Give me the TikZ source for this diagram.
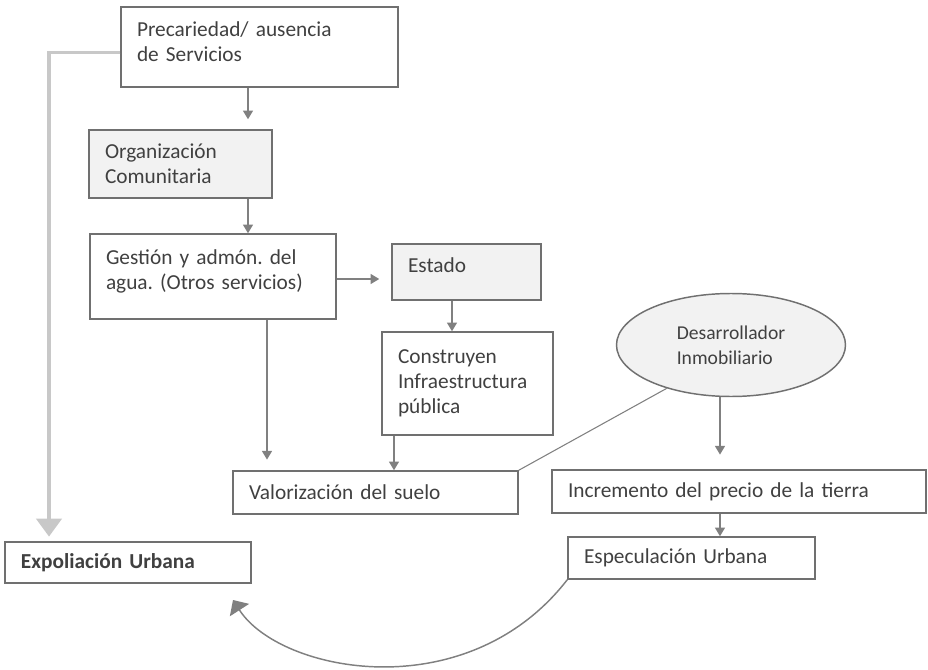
\documentclass[tikz,border=0pt]{standalone}
\usepackage{fontspec}
\setmainfont{Carlito}
\usepackage{tikz}
\usetikzlibrary{arrows.meta,shapes.geometric}
\definecolor{borde}{RGB}{112,112,112}
\definecolor{linea}{RGB}{128,128,128}
\definecolor{relleno}{RGB}{242,242,242}
\definecolor{claro}{RGB}{200,200,200}
\definecolor{texto}{RGB}{64,64,64}
\tikzstyle{caja} = [rectangle, draw=borde, line width=1.1pt, align=left, inner xsep=12pt, inner ysep=0pt, text=texto, font=\fontsize{16}{18.75}\selectfont\frenchspacing]
\tikzstyle{cajagris} = [caja, fill=relleno]
\tikzstyle{flecha} = [draw=linea, line width=0.9pt, -{Triangle[length=6.5pt,width=7.5pt]}]

\begin{document}
\begin{tikzpicture}[x=0.75pt,y=-0.75pt]
  \useasboundingbox (0,0) rectangle (928,670);
  \node[caja, text width=183.75pt, minimum height=60pt, text depth=26.5pt] (prec) at (259.5,47) {Precariedad/ ausencia\\de Servicios};
  \node[cajagris, text width=113.25pt, minimum height=51pt] (org) at (180.5,164) {Organización\\Comunitaria};
  \node[caja, text width=160.5pt, minimum height=63.75pt, text depth=29.5pt] (gest) at (213,276.5) {Gestión y admón. del\\agua. (Otros servicios)};
  \node[cajagris, text width=87.75pt, minimum height=42pt, text depth=10pt] (estado) at (466.5,272) {Estado};
  \node[caja, text width=104.25pt, minimum height=77.25pt] (constr) at (467.5,383.5) {Construyen\\Infraestructura\\pública};
  \node[ellipse, draw=borde, line width=1.1pt, fill=relleno, minimum width=171.75pt, minimum height=77.25pt, inner sep=0pt, align=left, text=texto, font=\fontsize{14.7}{18.75}\selectfont] (desa) at (731,345) {Desarrollador\\Inmobiliario};
  \node[caja, text width=189.75pt, minimum height=32.25pt] (valor) at (375.5,492.5) {Valorización del suelo};
  \node[caja, text width=256.5pt, minimum height=32.25pt] (incr) at (739,491.5) {Incremento del precio de la tierra};
  \node[caja, text width=161.25pt, minimum height=31.5pt] (espec) at (691.5,558) {Especulación Urbana};
  \node[caja, text width=160.5pt, minimum height=30.75pt, font=\fontsize{16}{18.75}\selectfont\bfseries] (expol) at (128,562.5) {Expoliación Urbana};
  \coordinate (fin) at (233,600);
  % flechas
  \draw[flecha, shorten >=7.5pt] (prec.south -| 248,0) -- (org.north -| 248,0);
  \draw[flecha] (org.south -| 248,0) -- (gest.north -| 248,0);
  \draw[flecha, shorten >=9pt] (gest.east |- 0,279) -- (estado.west |- 0,279);
  \draw[flecha] (estado.south -| 452,0) -- (constr.north -| 452,0);
  \draw[flecha, shorten >=8pt] (gest.south -| 267,0) -- (valor.north -| 267,0);
  \draw[flecha] (constr.south -| 394,0) -- (valor.north -| 394,0);
  \draw[flecha, shorten >=11pt] (desa.south -| 720,0) -- (incr.north -| 720,0);
  \draw[flecha] (incr.south -| 720,0) -- (espec.north -| 720,0);
  \draw[draw=linea, line width=0.8pt] (valor.north east) -- (desa.214);
  \draw[draw=claro, line width=2.6pt, -{Triangle[length=13.5pt,width=19pt]}, shorten >=3.5pt] (prec.west |- 0,52.5) -| (expol.north -| 49,0);
  \draw[draw=linea, line width=1.1pt, -{Triangle[length=9pt,width=17pt]}] (espec.south west) .. controls (467,709) and (280,673) .. (fin); % vuelta
\end{tikzpicture}
\end{document}
